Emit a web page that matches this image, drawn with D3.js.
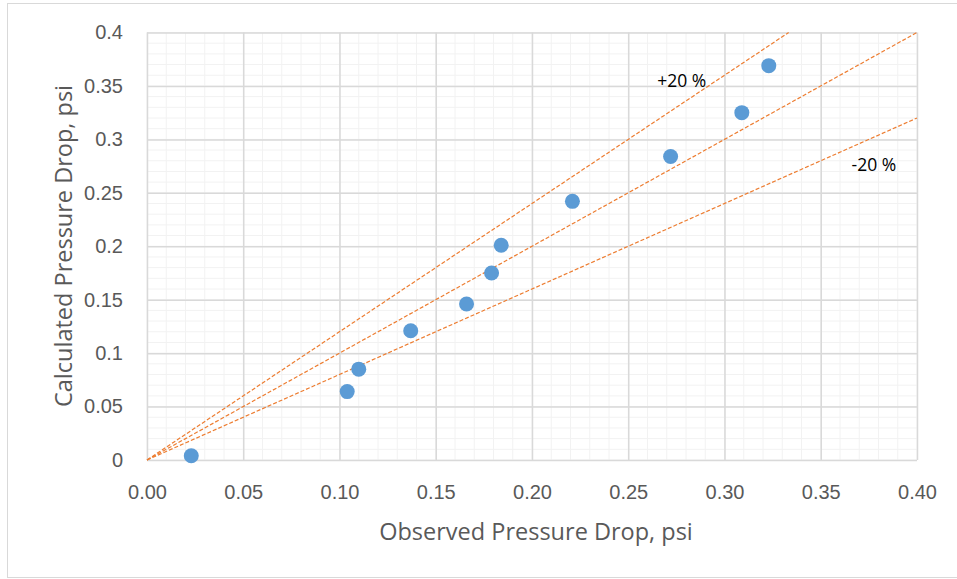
<!DOCTYPE html>
<html>
<head>
<meta charset="utf-8">
<script src="https://cdn.jsdelivr.net/npm/d3@7"></script>
<style>
	body { margin: 0; background: #fff; }
	svg { display: block; font-family: "Open Sans", "Noto Sans", sans-serif; }
	.tick text { fill: #595959; font-size: 20px; }
	.axis-title { fill: #595959; font-size: 23.5px; }
	.band-label { fill: #000; font-size: 17.5px; }
</style>
</head>
<body>
<svg id="chart" width="957" height="579"></svg>
<script>
// observed vs calculated pressure drop, psi
var observed = [0.023, 0.104, 0.110, 0.137, 0.166, 0.179, 0.184, 0.221, 0.272, 0.309, 0.323];
var calculated = [0.004, 0.064, 0.085, 0.121, 0.146, 0.175, 0.201, 0.242, 0.284, 0.325, 0.369];

var xTicks = [0, 0.05, 0.10, 0.15, 0.20, 0.25, 0.30, 0.35, 0.40];
var yTicks = [0, 0.05, 0.10, 0.15, 0.20, 0.25, 0.30, 0.35, 0.40];

// reference lines: y = k * x
var bandFactors = [1.2, 1.0, 0.8];
var bandLabels = ["+20 %", "-20 %"];
var bandLabelAt = [[0.265, 0.349], [0.366, 0.270]];

var sizes = {
	offset: { left: 147, top: 32.5 },
	chartWidth: 770,
	chartHeight: 427.5,
};

function translate(x, y) {
	return "translate(" + x + "," + y + ")";
}

var svg = d3.select("#chart");

svg.append("rect")
	.attr("x", 7.5).attr("y", 3.5)
	.attr("width", 970).attr("height", 574)
	.attr("fill", "#fff")
	.attr("stroke", "#d9d9d9");

var xScale = d3.scaleLinear().domain([0, 0.4]).range([0, sizes.chartWidth]);
var yScale = d3.scaleLinear().domain([0, 0.4]).range([sizes.chartHeight, 0]);

var plot = svg.append("g")
	.attr("transform", translate(sizes.offset.left, sizes.offset.top));

// minor grid every 0.01
var minor = d3.range(0, 0.401, 0.01);
plot.append("g").selectAll("line")
	.data(minor).join("line")
	.attr("x1", d => xScale(d)).attr("x2", d => xScale(d))
	.attr("y1", 0).attr("y2", sizes.chartHeight)
	.attr("stroke", "#f2f2f2");
plot.append("g").selectAll("line")
	.data(minor).join("line")
	.attr("y1", d => yScale(d)).attr("y2", d => yScale(d))
	.attr("x1", 0).attr("x2", sizes.chartWidth)
	.attr("stroke", "#f2f2f2");

// major grid drawn as long ticks
var xAxis = d3.axisBottom(xScale)
	.tickValues(xTicks)
	.tickFormat(d3.format(".2f"))
	.tickSize(sizes.chartHeight);
var yAxis = d3.axisLeft(yScale)
	.tickValues(yTicks)
	.tickFormat(d => d === 0 ? "0" : String(+d.toFixed(2)))
	.tickSize(sizes.chartWidth);

var gx = plot.append("g")
	.attr("class", "axis x")
	.call(xAxis);
gx.select(".domain").remove();
gx.selectAll(".tick line").attr("stroke", "#d9d9d9").attr("stroke-width", 1.5);
gx.selectAll(".tick text")
	.attr("y", sizes.chartHeight + 39)
	.attr("dy", 0);

var gy = plot.append("g")
	.attr("class", "axis y")
	.attr("transform", translate(sizes.chartWidth, 0))
	.call(yAxis);
gy.select(".domain").remove();
gy.selectAll(".tick line").attr("stroke", "#d9d9d9").attr("stroke-width", 1.5);
gy.selectAll(".tick text").attr("x", -sizes.chartWidth - 24);

// dashed reference lines
plot.append("g").selectAll("line")
	.data(bandFactors).join("line")
	.attr("x1", xScale(0)).attr("y1", yScale(0))
	.attr("x2", k => xScale(Math.min(0.4, 0.4 / k)))
	.attr("y2", k => yScale(Math.min(0.4, 0.4 * k)))
	.attr("stroke", "#ed7d31")
	.attr("stroke-width", 1.2)
	.attr("stroke-dasharray", "4,2");

plot.append("g").selectAll("text")
	.data(bandLabels).join("text")
	.attr("class", "band-label")
	.attr("x", (d, i) => xScale(bandLabelAt[i][0]))
	.attr("y", (d, i) => yScale(bandLabelAt[i][1]))
	.text(d => d);

// data points
plot.append("g").selectAll("circle")
	.data(observed).join("circle")
	.attr("cx", d => xScale(d))
	.attr("cy", (d, i) => yScale(calculated[i]))
	.attr("r", 7.5)
	.attr("fill", "#5b9bd5");

// axis titles
svg.append("text")
	.attr("class", "axis-title")
	.attr("text-anchor", "middle")
	.attr("x", 536)
	.attr("y", 540)
	.text("Observed Pressure Drop, psi");

svg.append("text")
	.attr("class", "axis-title")
	.attr("text-anchor", "middle")
	.attr("transform", translate(72, 246) + " rotate(-90)")
	.text("Calculated Pressure Drop, psi");
</script>
</body>
</html>
